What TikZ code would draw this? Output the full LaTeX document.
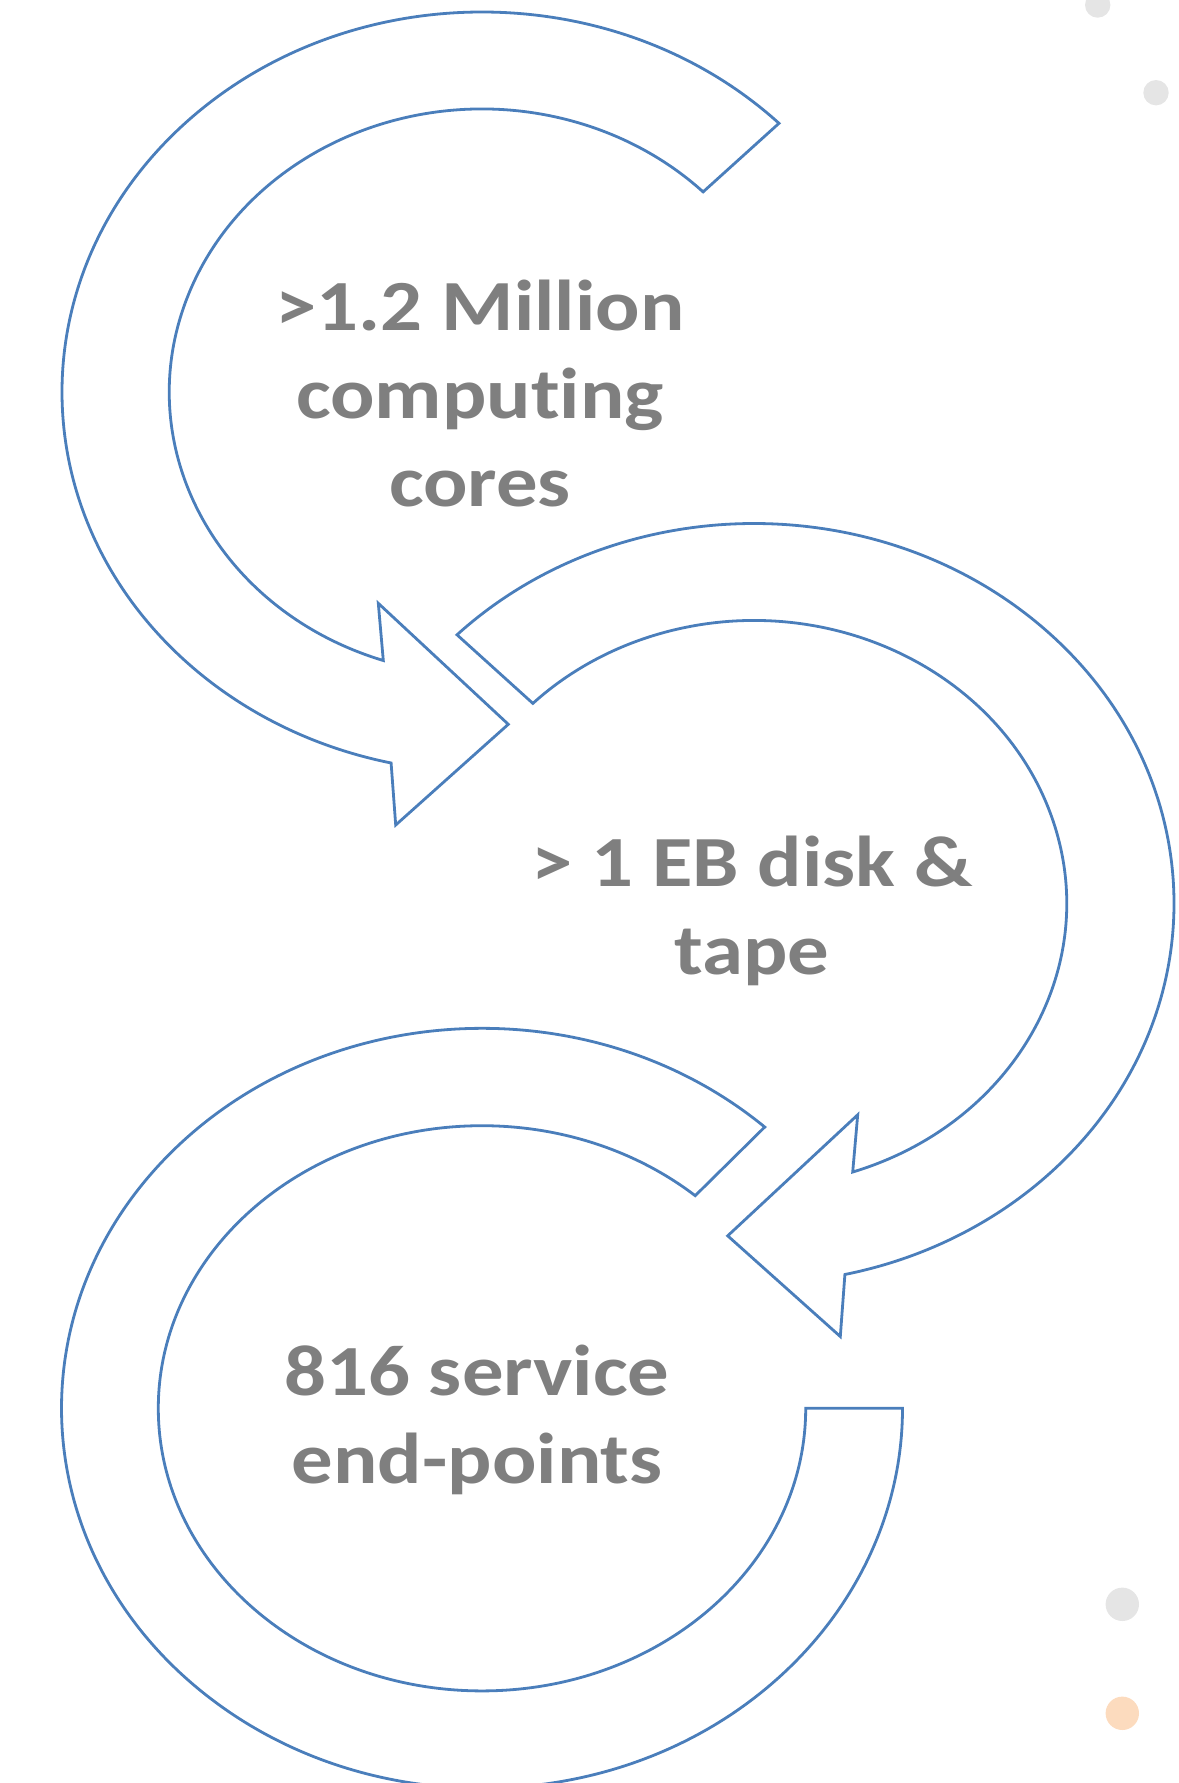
\documentclass[tikz,border=0pt]{standalone}
\usepackage{fontspec}
\newfontfamily\lblfont{Carlito}[FakeStretch=1.15, Ligatures=NoCommon]
\usetikzlibrary{calc}
\definecolor{shpblue}{RGB}{74,126,187}
\definecolor{txtgray}{RGB}{127,127,127}
\definecolor{dotgray}{RGB}{229,229,229}
\definecolor{dotpeach}{RGB}{252,219,190}
\tikzset{
  shp/.style={draw=shpblue, line width=2.8pt, line join=miter},
  lbl/.style={font=\lblfont\bfseries\fontsize{72}{88}\selectfont, text=txtgray, align=center, inner sep=0pt},
  swirl/.pic={
    \draw[shp] (-45:420 and 380)
      arc[start angle=-45, end angle=-257.5, x radius=420, y radius=380]
      -- (-86.3,433) -- (26.3,332.3) -- (-103.7,211.3)
      -- (-251.6:312.7 and 283)
      arc[start angle=-251.6, end angle=-45, x radius=312.7, y radius=283]
      -- cycle;
  }
}
\begin{document}
\begin{tikzpicture}[x=1pt, y=-1pt]
\useasboundingbox (0,0) rectangle (1178,1783);
% background dots
\fill[dotgray] (1097.7,5) circle[radius=12.7];
\fill[dotgray] (1156,92.7) circle[radius=12.7];
\fill[dotgray] (1122.3,1604.3) circle[radius=16.7];
\fill[dotpeach] (1122.3,1713.3) circle[radius=16.7];
% swirl arrows
\pic at (482,392) {swirl};
\pic[xscale=-1] at (754,903.5) {swirl};
\coordinate (c3) at (482,1408.3);
\draw[shp] ($(c3)+(-47.75:420.5 and 380)$)
  arc[start angle=-47.75, end angle=-360, x radius=420.5, y radius=380]
  -- ($(c3)+(323.7,0)$)
  arc[start angle=-360, end angle=-48.8, x radius=323.7, y radius=282.6]
  -- cycle;
% labels (base anchor = baseline of the last line)
\node[lbl, anchor=base] (t1) at (480,506.7) {>1.2 Million\\computing\\cores};
\node[lbl, anchor=base] (t2) at (752,974) {> 1 EB disk \&\\tape};
\node[lbl, anchor=base] (t3) at (477,1483) {816 service\\end-points};
\end{tikzpicture}
\end{document}
